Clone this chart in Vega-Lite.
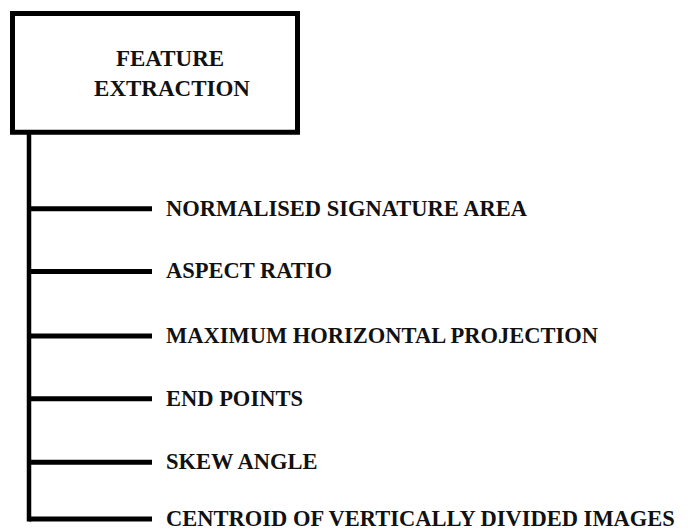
{
  "$schema": "https://vega.github.io/schema/vega-lite/v6.json",
  "width": 699,
  "height": 531,
  "padding": 0,
  "autosize": {"type": "fit", "contains": "padding"},
  "background": "white",
  "config": {"view": {"stroke": null}},
  "datasets": {
    "box": [{"x1": 12.5, "x2": 297.5, "y1": 13.5, "y2": 133}],
    "trunk": [{"x": 29, "y1": 133, "y2": 524.5}],
    "title": [
      {"line": "FEATURE", "x": 170, "y": 59.5},
      {"line": "EXTRACTION", "x": 172, "y": 89.5}
    ],
    "items": [
      {"label": "NORMALISED SIGNATURE AREA", "y": 210, "x0": 29, "x1": 152, "tx": 166},
      {"label": "ASPECT RATIO", "y": 273, "x0": 29, "x1": 152, "tx": 166},
      {"label": "MAXIMUM HORIZONTAL PROJECTION", "y": 338, "x0": 29, "x1": 152, "tx": 166},
      {"label": "END POINTS", "y": 401, "x0": 29, "x1": 152, "tx": 166},
      {"label": "SKEW ANGLE", "y": 465, "x0": 29, "x1": 152, "tx": 166},
      {"label": "CENTROID OF VERTICALLY DIVIDED IMAGES", "y": 522, "x0": 29, "x1": 152, "tx": 166}
    ]
  },
  "resolve": {"scale": {"x": "shared", "y": "shared"}},
  "layer": [
    {
      "data": {"name": "box"},
      "mark": {"type": "rect", "fill": "white", "stroke": "black", "strokeWidth": 5},
      "encoding": {
        "x": {"field": "x1", "type": "quantitative", "scale": {"domain": [0, 699], "nice": false, "zero": false}, "axis": null},
        "x2": {"field": "x2"},
        "y": {"field": "y1", "type": "quantitative", "scale": {"domain": [0, 531], "nice": false, "zero": false, "reverse": true}, "axis": null},
        "y2": {"field": "y2"}
      }
    },
    {
      "data": {"name": "trunk"},
      "mark": {"type": "rule", "stroke": "black", "strokeWidth": 4.5},
      "encoding": {
        "x": {"field": "x", "type": "quantitative"},
        "y": {"field": "y1", "type": "quantitative"},
        "y2": {"field": "y2"}
      }
    },
    {
      "data": {"name": "items"},
      "mark": {"type": "rule", "stroke": "black", "strokeWidth": 5},
      "encoding": {
        "x": {"field": "x0", "type": "quantitative"},
        "x2": {"field": "x1"},
        "y": {"field": "y", "type": "quantitative"}
      }
    },
    {
      "data": {"name": "items"},
      "mark": {"type": "text", "align": "left", "baseline": "middle", "font": "Liberation Serif", "fontWeight": "bold", "fontSize": 22.5, "color": "#111"},
      "encoding": {
        "x": {"field": "tx", "type": "quantitative"},
        "y": {"field": "y", "type": "quantitative"},
        "text": {"field": "label"}
      }
    },
    {
      "data": {"name": "title"},
      "mark": {"type": "text", "align": "center", "baseline": "middle", "font": "Liberation Serif", "fontWeight": "bold", "fontSize": 23, "color": "#111"},
      "encoding": {
        "x": {"field": "x", "type": "quantitative"},
        "y": {"field": "y", "type": "quantitative"},
        "text": {"field": "line"}
      }
    }
  ]
}
